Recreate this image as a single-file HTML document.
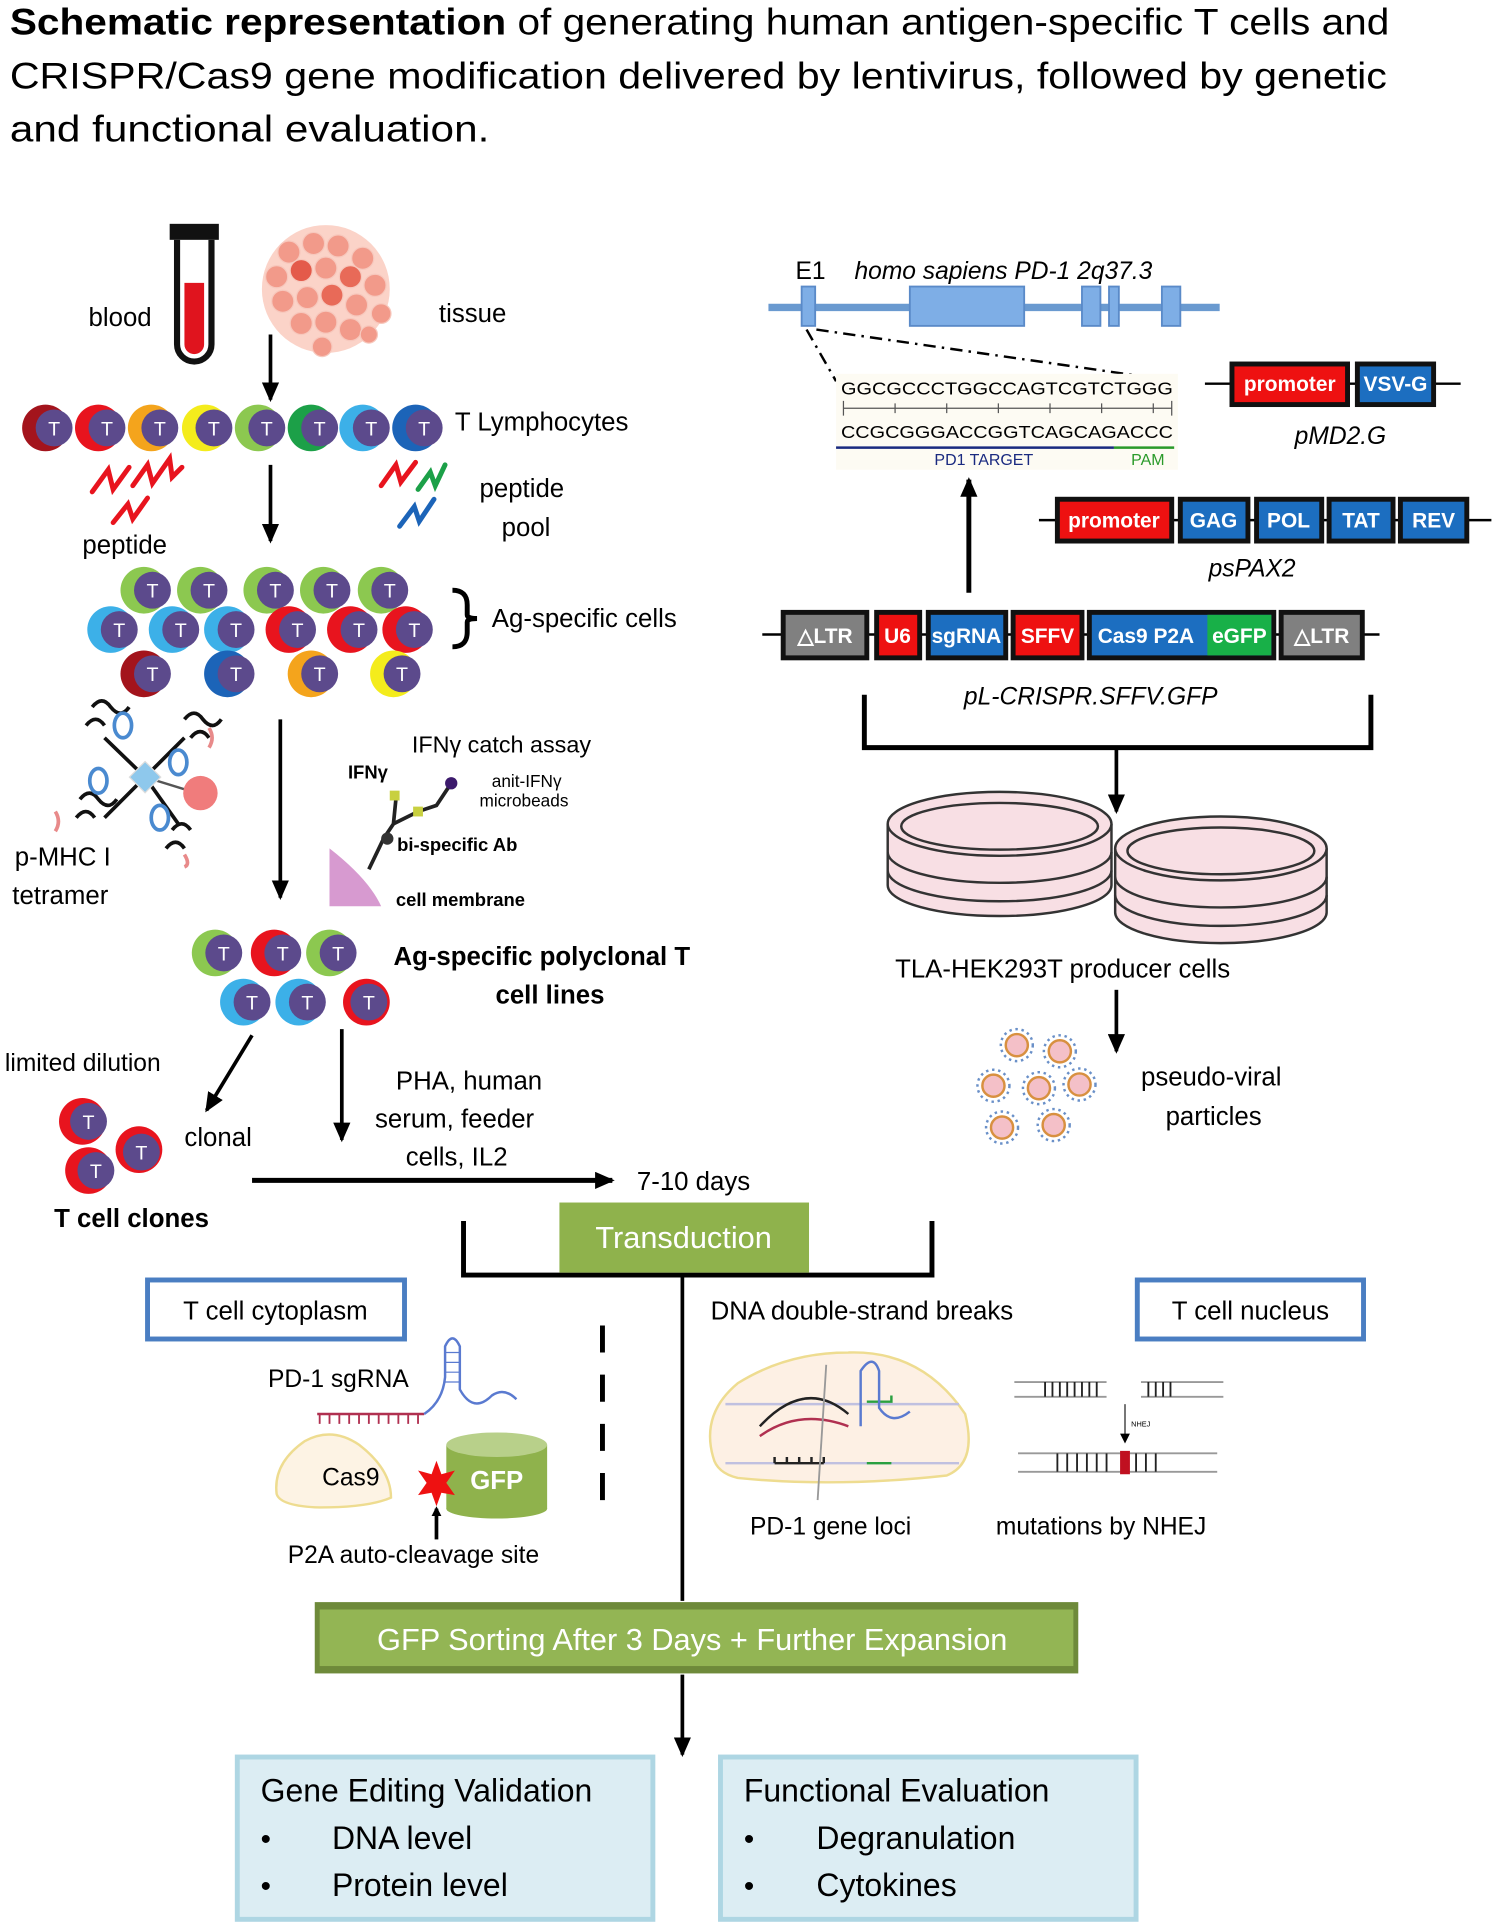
<!DOCTYPE html>
<html><head><meta charset="utf-8"><style>
html,body{margin:0;padding:0;background:#fff;}
svg{display:block;}
text{font-family:"Liberation Sans",sans-serif;}
</style></head><body>
<svg width="1500" height="1928" viewBox="0 0 1220 1568" xmlns="http://www.w3.org/2000/svg">
<defs>
<marker id="ah" markerWidth="8" markerHeight="8" refX="6" refY="4" orient="auto" markerUnits="userSpaceOnUse"><path d="M0,0 L8,4 L0,8 z" fill="#000"/></marker>
<marker id="ah2" markerWidth="16" markerHeight="14" refX="14" refY="7" orient="auto" markerUnits="userSpaceOnUse"><path d="M0,0 L16,7 L0,14 z" fill="#000"/></marker>
<g id="cP"><circle cx="2" cy="0" r="15" fill="#5c4a8c"/><text x="2" y="6" font-size="16" fill="#fff" text-anchor="middle">T</text></g>
</defs>

<!-- Title -->
<text x="8" y="28" font-size="30" textLength="1122" lengthAdjust="spacingAndGlyphs"><tspan font-weight="bold">Schematic representation</tspan> of generating human antigen-specific T cells and</text>
<text x="8" y="72" font-size="30" textLength="1120" lengthAdjust="spacingAndGlyphs">CRISPR/Cas9 gene modification delivered by lentivirus, followed by genetic</text>
<text x="8" y="115" font-size="30" textLength="390" lengthAdjust="spacingAndGlyphs">and functional evaluation.</text>

<!-- blood tube -->
<rect x="138" y="182" width="40" height="13" fill="#111"/>
<path d="M144,195 V280 A14,14 0 0 0 172,280 V195" fill="none" stroke="#111" stroke-width="5"/>
<path d="M150,230 V280 A8,8 0 0 0 166,280 V230 z" fill="#e0141e"/>
<text x="72" y="265" font-size="21">blood</text>
<!-- tissue -->
<g fill="#f29a8a" stroke="#f7c8bd" stroke-width="1">
<circle cx="265" cy="235" r="52" fill="#fbd3c8" stroke="none"/>
<circle cx="235" cy="205" r="9"/><circle cx="255" cy="198" r="9"/><circle cx="275" cy="200" r="9"/><circle cx="295" cy="210" r="9"/>
<circle cx="225" cy="225" r="9"/><circle cx="245" cy="220" r="9" fill="#e45a4a"/><circle cx="265" cy="218" r="9"/><circle cx="285" cy="225" r="9" fill="#e86a58"/><circle cx="305" cy="232" r="9"/>
<circle cx="230" cy="245" r="9"/><circle cx="250" cy="242" r="9"/><circle cx="270" cy="240" r="9" fill="#e86a58"/><circle cx="290" cy="248" r="9"/><circle cx="310" cy="255" r="8"/>
<circle cx="245" cy="263" r="9"/><circle cx="265" cy="262" r="9"/><circle cx="285" cy="268" r="9"/><circle cx="262" cy="282" r="8"/><circle cx="300" cy="272" r="7"/>
</g>
<text x="357" y="262" font-size="21">tissue</text>
<line x1="220" y1="272" x2="220" y2="325" stroke="#000" stroke-width="3" marker-end="url(#ah2)"/>

<!-- T lymphocytes -->
<g>
<circle cx="37" cy="348" r="19" fill="#a3141c"/><use href="#cP" x="42" y="348"/>
<circle cx="80" cy="348" r="19" fill="#e8141e"/><use href="#cP" x="85" y="348"/>
<circle cx="123" cy="348" r="19" fill="#f4a41c"/><use href="#cP" x="128" y="348"/>
<circle cx="167" cy="348" r="19" fill="#f4ec1c"/><use href="#cP" x="172" y="348"/>
<circle cx="210" cy="348" r="19" fill="#8cc850"/><use href="#cP" x="215" y="348"/>
<circle cx="253" cy="348" r="19" fill="#1ca048"/><use href="#cP" x="258" y="348"/>
<circle cx="295" cy="348" r="19" fill="#3cb0e8"/><use href="#cP" x="300" y="348"/>
<circle cx="338" cy="348" r="19" fill="#1c64b8"/><use href="#cP" x="343" y="348"/>
</g>
<text x="370" y="350" font-size="21">T Lymphocytes</text>
<!-- peptides -->
<g fill="none" stroke-width="4" stroke-linecap="round">
<path d="M75,400 L88,382 L92,398 L105,380" stroke="#e8141e"/>
<path d="M108,395 L120,378 L124,393 L138,373 L140,388 L148,380" stroke="#e8141e"/>
<path d="M92,425 L104,410 L108,422 L120,405" stroke="#e8141e"/>
<path d="M310,395 L322,378 L326,392 L338,376" stroke="#e8141e"/>
<path d="M340,398 L350,384 L354,395 L362,378" stroke="#1ca048"/>
<path d="M325,428 L337,412 L341,424 L353,406" stroke="#1c64b8"/>
</g>
<text x="67" y="450" font-size="21">peptide</text>
<text x="390" y="404" font-size="21">peptide</text>
<text x="408" y="436" font-size="21">pool</text>
<line x1="220" y1="378" x2="220" y2="440" stroke="#000" stroke-width="3" marker-end="url(#ah2)"/>

<!-- Ag-specific cells -->
<g>
<circle cx="117" cy="480" r="19" fill="#8cc850"/><use href="#cP" x="122" y="480"/>
<circle cx="163" cy="480" r="19" fill="#8cc850"/><use href="#cP" x="168" y="480"/>
<circle cx="217" cy="480" r="19" fill="#8cc850"/><use href="#cP" x="222" y="480"/>
<circle cx="263" cy="480" r="19" fill="#8cc850"/><use href="#cP" x="268" y="480"/>
<circle cx="310" cy="480" r="19" fill="#8cc850"/><use href="#cP" x="315" y="480"/>
<circle cx="90" cy="512" r="19" fill="#3cb0e8"/><use href="#cP" x="95" y="512"/>
<circle cx="140" cy="512" r="19" fill="#3cb0e8"/><use href="#cP" x="145" y="512"/>
<circle cx="185" cy="512" r="19" fill="#3cb0e8"/><use href="#cP" x="190" y="512"/>
<circle cx="235" cy="512" r="19" fill="#e8141e"/><use href="#cP" x="240" y="512"/>
<circle cx="285" cy="512" r="19" fill="#e8141e"/><use href="#cP" x="290" y="512"/>
<circle cx="330" cy="512" r="19" fill="#e8141e"/><use href="#cP" x="335" y="512"/>
<circle cx="117" cy="548" r="19" fill="#a3141c"/><use href="#cP" x="122" y="548"/>
<circle cx="185" cy="548" r="19" fill="#1c64b8"/><use href="#cP" x="190" y="548"/>
<circle cx="253" cy="548" r="19" fill="#f4a41c"/><use href="#cP" x="258" y="548"/>
<circle cx="320" cy="548" r="19" fill="#f4ec1c"/><use href="#cP" x="325" y="548"/>
</g>
<path d="M368,480 Q380,480 380,492 V500 Q380,503 388,503 Q380,503 380,506 V514 Q380,526 368,526" fill="none" stroke="#000" stroke-width="4"/>
<text x="400" y="510" font-size="21">Ag-specific cells</text>

<!-- tetramer -->
<g fill="none" stroke-width="3">
<line x1="85" y1="600" x2="118" y2="632" stroke="#111"/><line x1="150" y1="600" x2="118" y2="632" stroke="#111"/>
<line x1="85" y1="665" x2="118" y2="632" stroke="#111"/><line x1="145" y1="670" x2="118" y2="632" stroke="#111"/>
<line x1="118" y1="632" x2="160" y2="645" stroke="#555" stroke-width="2"/>
<path d="M75,575 q8,-10 15,0 q8,10 15,0 M70,590 q8,-10 15,0" stroke="#111"/>
<path d="M150,585 q8,-10 15,0 q8,10 15,0 M155,600 q8,-10 15,0" stroke="#111"/>
<path d="M65,650 q8,-10 15,0 q8,10 15,0 M62,665 q8,-10 15,0" stroke="#111"/>
<path d="M135,690 q8,-10 15,0 M140,675 q8,-10 15,0" stroke="#111"/>
<ellipse cx="100" cy="590" rx="7" ry="10" stroke="#4a8ad0"/><ellipse cx="145" cy="620" rx="7" ry="10" stroke="#4a8ad0"/>
<ellipse cx="80" cy="635" rx="7" ry="10" stroke="#4a8ad0"/><ellipse cx="130" cy="665" rx="7" ry="10" stroke="#4a8ad0"/>
<path d="M45,660 q5,8 0,16 M170,592 q5,8 0,16 M150,695 q5,8 0,10" stroke="#e88a8a"/>
</g>
<rect x="109" y="623" width="18" height="18" fill="#8ec8ec" stroke="#ddd" transform="rotate(45 118 632)"/>
<circle cx="163" cy="645" r="14" fill="#f07c7c"/>
<text x="12" y="704" font-size="21">p-MHC I</text>
<text x="10" y="735" font-size="21">tetramer</text>
<line x1="228" y1="585" x2="228" y2="730" stroke="#000" stroke-width="3" marker-end="url(#ah2)"/>

<!-- IFNg catch -->
<text x="335" y="612" font-size="19">IFNγ catch assay</text>
<text x="283" y="633" font-size="15" font-weight="bold">IFNγ</text>
<text x="400" y="640" font-size="14">anit-IFNγ</text>
<text x="390" y="656" font-size="14">microbeads</text>
<path d="M268,690 Q300,715 310,737 L268,737 z" fill="#d79ad0"/>
<path d="M300,707 L312,682 L320,670 L322,650 M320,670 L340,660 L355,655 L365,640" fill="none" stroke="#222" stroke-width="3"/>
<circle cx="315" cy="682" r="5" fill="#333"/>
<rect x="317" y="643" width="8" height="8" fill="#c8d040"/><rect x="336" y="656" width="8" height="8" fill="#c8d040"/>
<circle cx="367" cy="637" r="5" fill="#3c1a6c"/>
<text x="323" y="692" font-size="15" font-weight="bold">bi-specific Ab</text>
<text x="322" y="737" font-size="15" font-weight="bold">cell membrane</text>

<!-- polyclonal -->
<g>
<circle cx="175" cy="775" r="19" fill="#8cc850"/><use href="#cP" x="180" y="775"/>
<circle cx="223" cy="775" r="19" fill="#e8141e"/><use href="#cP" x="228" y="775"/>
<circle cx="268" cy="775" r="19" fill="#8cc850"/><use href="#cP" x="273" y="775"/>
<circle cx="198" cy="815" r="19" fill="#3cb0e8"/><use href="#cP" x="203" y="815"/>
<circle cx="243" cy="815" r="19" fill="#3cb0e8"/><use href="#cP" x="248" y="815"/>
<circle cx="298" cy="815" r="19" fill="#e8141e"/><use href="#cP" x="298" y="815"/>
</g>
<text x="320" y="785" font-size="21" font-weight="bold">Ag-specific polyclonal T</text>
<text x="403" y="816" font-size="21" font-weight="bold">cell lines</text>
<text x="4" y="871" font-size="20">limited dilution</text>
<line x1="205" y1="842" x2="168" y2="903" stroke="#000" stroke-width="3" marker-end="url(#ah2)"/>
<line x1="278" y1="837" x2="278" y2="927" stroke="#000" stroke-width="3" marker-end="url(#ah2)"/>
<g>
<circle cx="67" cy="912" r="19" fill="#e8141e"/><use href="#cP" x="70" y="912"/>
<circle cx="113" cy="935" r="19" fill="#e8141e"/><use href="#cP" x="113" y="937"/>
<circle cx="72" cy="952" r="19" fill="#e8141e"/><use href="#cP" x="76" y="952"/>
</g>
<text x="150" y="932" font-size="21">clonal</text>
<text x="44" y="998" font-size="21" font-weight="bold">T cell clones</text>
<text x="322" y="886" font-size="21">PHA, human</text>
<text x="305" y="917" font-size="21">serum, feeder</text>
<text x="330" y="948" font-size="21">cells, IL2</text>
<line x1="205" y1="960" x2="498" y2="960" stroke="#000" stroke-width="4" marker-end="url(#ah2)"/>
<text x="518" y="968" font-size="21">7-10 days</text>

<!-- transduction -->
<path d="M377,993 V1037 H758 V993" fill="none" stroke="#000" stroke-width="4"/>
<rect x="455" y="978" width="203" height="57" fill="#8fb24c"/>
<text x="556" y="1015" font-size="25" fill="#fff" text-anchor="middle">Transduction</text>
<line x1="555" y1="1037" x2="555" y2="1302" stroke="#000" stroke-width="3"/>
<rect x="120" y="1041" width="209" height="48" fill="#fff" stroke="#4a7ec2" stroke-width="4"/>
<text x="224" y="1073" font-size="21" text-anchor="middle">T cell cytoplasm</text>
<rect x="925" y="1041" width="184" height="48" fill="#fff" stroke="#4a7ec2" stroke-width="4"/>
<text x="1017" y="1073" font-size="21" text-anchor="middle">T cell nucleus</text>
<text x="578" y="1073" font-size="21">DNA double-strand breaks</text>
<line x1="490" y1="1078" x2="490" y2="1222" stroke="#000" stroke-width="4" stroke-dasharray="22,18"/>

<!-- sgRNA / Cas9 -->
<text x="218" y="1128" font-size="20">PD-1 sgRNA</text>
<line x1="258" y1="1150" x2="345" y2="1150" stroke="#b03050" stroke-width="2"/>
<path d="M260,1150 v8 M268,1150 v8 M276,1150 v8 M284,1150 v8 M292,1150 v8 M300,1150 v8 M308,1150 v8 M316,1150 v8 M324,1150 v8 M332,1150 v8 M340,1150 v8" stroke="#b03050" stroke-width="1.5"/>
<path d="M345,1150 Q360,1140 362,1120 V1095 Q368,1082 374,1095 V1130 Q385,1150 400,1135 Q410,1128 420,1138" fill="none" stroke="#5a7ad0" stroke-width="2"/>
<path d="M362,1100 h12 M362,1108 h12 M362,1116 h12 M362,1124 h12" stroke="#5a7ad0"/>
<path d="M225,1215 Q222,1190 248,1172 Q270,1160 292,1175 Q318,1195 318,1218 Q300,1226 260,1226 Q228,1225 225,1215 z" fill="#fdf3e4" stroke="#eedc90" stroke-width="2"/>
<text x="262" y="1208" font-size="20">Cas9</text>
<rect x="363" y="1175" width="82" height="52" fill="#8fb24c"/>
<ellipse cx="404" cy="1227" rx="41" ry="8" fill="#8fb24c"/>
<ellipse cx="404" cy="1175" rx="41" ry="10" fill="#b8d08a"/>
<text x="404" y="1211" font-size="21" font-weight="bold" fill="#fff" text-anchor="middle">GFP</text>
<polygon points="355,1188 359,1199 370,1196 363,1206 370,1216 359,1214 355,1225 351,1214 340,1216 347,1206 340,1196 351,1199" fill="#ee1111"/>
<line x1="355" y1="1252" x2="355" y2="1227" stroke="#000" stroke-width="3" marker-end="url(#ah)"/>
<text x="234" y="1271" font-size="20">P2A auto-cleavage site</text>

<!-- PD-1 gene loci -->
<path d="M580,1185 Q570,1150 600,1125 Q640,1100 690,1100 Q750,1098 785,1150 Q795,1190 770,1200 Q680,1210 600,1202 Q583,1198 580,1185 z" fill="#fdf0e4" stroke="#eedc90" stroke-width="2"/>
<line x1="590" y1="1142" x2="780" y2="1142" stroke="#c0c0e0" stroke-width="2"/>
<line x1="590" y1="1190" x2="780" y2="1190" stroke="#c0c0e0" stroke-width="2"/>
<path d="M618,1160 Q655,1120 690,1150" fill="none" stroke="#222" stroke-width="2"/>
<path d="M618,1168 Q650,1145 690,1160" fill="none" stroke="#b03050" stroke-width="2"/>
<path d="M630,1190 h40 M630,1185 v5 M640,1185 v5 M650,1185 v5 M660,1185 v5 M670,1185 v5" stroke="#222" stroke-width="2"/>
<path d="M705,1140 h20 v-5 M705,1190 h20" stroke="#2aa040" stroke-width="2" fill="none"/>
<path d="M700,1160 V1115 Q710,1100 715,1115 V1145 Q725,1160 740,1148" fill="none" stroke="#5a7ad0" stroke-width="2"/>
<line x1="672" y1="1110" x2="665" y2="1220" stroke="#999" stroke-width="1.5"/>
<text x="610" y="1248" font-size="20">PD-1 gene loci</text>
<g stroke="#999" stroke-width="1.5">
<line x1="825" y1="1124" x2="900" y2="1124"/><line x1="825" y1="1136" x2="900" y2="1136"/>
<line x1="928" y1="1124" x2="995" y2="1124"/><line x1="928" y1="1136" x2="995" y2="1136"/>
<line x1="828" y1="1182" x2="990" y2="1182"/><line x1="828" y1="1197" x2="990" y2="1197"/>
</g>
<path d="M850,1124 v12 M856,1124 v12 M862,1124 v12 M868,1124 v12 M874,1124 v12 M880,1124 v12 M886,1124 v12 M892,1124 v12 M934,1124 v12 M940,1124 v12 M946,1124 v12 M952,1124 v12 M860,1182 v15 M868,1182 v15 M876,1182 v15 M884,1182 v15 M892,1182 v15 M900,1182 v15 M924,1182 v15 M932,1182 v15 M940,1182 v15" stroke="#222" stroke-width="1.5"/>
<rect x="911" y="1180" width="8" height="19" fill="#c01020"/>
<line x1="915" y1="1142" x2="915" y2="1172" stroke="#222" marker-end="url(#ah)"/>
<text x="920" y="1160" font-size="6">NHEJ</text>
<text x="810" y="1248" font-size="20">mutations by NHEJ</text>

<!-- GFP sorting -->
<rect x="256" y="1303" width="621" height="58" fill="#6e8a3a"/>
<rect x="260" y="1309" width="613" height="46" fill="#93b554"/>
<text x="563" y="1342" font-size="25" fill="#fff" text-anchor="middle">GFP Sorting After 3 Days + Further Expansion</text>
<line x1="555" y1="1362" x2="555" y2="1427" stroke="#000" stroke-width="3" marker-end="url(#ah2)"/>

<!-- bottom boxes -->
<rect x="193" y="1429" width="338" height="132" fill="#dcedf3" stroke="#aed6e3" stroke-width="4"/>
<text x="212" y="1465" font-size="26">Gene Editing Validation</text>
<text x="212" y="1504" font-size="24">•</text><text x="270" y="1504" font-size="26">DNA level</text>
<text x="212" y="1542" font-size="24">•</text><text x="270" y="1542" font-size="26">Protein level</text>
<rect x="586" y="1429" width="338" height="132" fill="#dcedf3" stroke="#aed6e3" stroke-width="4"/>
<text x="605" y="1465" font-size="26">Functional Evaluation</text>
<text x="605" y="1504" font-size="24">•</text><text x="664" y="1504" font-size="26">Degranulation</text>
<text x="605" y="1542" font-size="24">•</text><text x="664" y="1542" font-size="26">Cytokines</text>

<!-- PD-1 gene -->
<text x="647" y="227" font-size="20">E1</text>
<text x="695" y="227" font-size="20" font-style="italic">homo sapiens PD-1 2q37.3</text>
<line x1="625" y1="250" x2="992" y2="250" stroke="#6a9ad0" stroke-width="6"/>
<g fill="#7eaee6" stroke="#5a8ac8" stroke-width="1.5">
<rect x="652" y="233" width="11" height="32"/><rect x="740" y="233" width="93" height="32"/>
<rect x="880" y="233" width="15" height="32"/><rect x="902" y="233" width="8" height="32"/><rect x="945" y="233" width="15" height="32"/>
</g>
<path d="M656,268 L680,310 M664,268 L957,310" stroke="#000" stroke-width="2" stroke-dasharray="10,5,2,5" fill="none"/>
<rect x="680" y="304" width="278" height="78" fill="#fdfbf3"/>
<text x="684" y="321" font-size="14" font-family="Liberation Mono" textLength="270" lengthAdjust="spacingAndGlyphs">GGCGCCCTGGCCAGTCGTCTGGG</text>
<line x1="686" y1="332" x2="953" y2="332" stroke="#555"/>
<path d="M686,326 v12 M953,326 v12 M728,328 v8 M770,328 v8 M812,328 v8 M854,328 v8 M896,328 v8 M938,328 v8" stroke="#555"/>
<text x="684" y="356" font-size="14" font-family="Liberation Mono" textLength="270" lengthAdjust="spacingAndGlyphs">CCGCGGGACCGGTCAGCAGACCC</text>
<line x1="680" y1="364" x2="906" y2="364" stroke="#1a2a80" stroke-width="2"/>
<line x1="906" y1="364" x2="955" y2="364" stroke="#2a9a2a" stroke-width="2"/>
<text x="760" y="378" font-size="13" fill="#1a2a80">PD1 TARGET</text>
<text x="920" y="378" font-size="13" fill="#2a9a2a">PAM</text>
<line x1="788" y1="482" x2="788" y2="390" stroke="#000" stroke-width="4" marker-end="url(#ah2)"/>

<!-- plasmids -->
<g font-weight="bold" font-size="17" fill="#fff" text-anchor="middle">
<line x1="980" y1="312" x2="1188" y2="312" stroke="#000" stroke-width="2"/>
<rect x="1002" y="296" width="94" height="33" fill="#ee1111" stroke="#111" stroke-width="4"/><text x="1049" y="318">promoter</text>
<rect x="1104" y="296" width="62" height="33" fill="#1c6ec0" stroke="#111" stroke-width="4"/><text x="1135" y="318">VSV-G</text>
<line x1="845" y1="423" x2="1213" y2="423" stroke="#000" stroke-width="2"/>
<rect x="860" y="406" width="93" height="34" fill="#ee1111" stroke="#111" stroke-width="4"/><text x="906" y="429">promoter</text>
<rect x="960" y="406" width="55" height="34" fill="#1c6ec0" stroke="#111" stroke-width="4"/><text x="987" y="429">GAG</text>
<rect x="1022" y="406" width="53" height="34" fill="#1c6ec0" stroke="#111" stroke-width="4"/><text x="1048" y="429">POL</text>
<rect x="1081" y="406" width="52" height="34" fill="#1c6ec0" stroke="#111" stroke-width="4"/><text x="1107" y="429">TAT</text>
<rect x="1139" y="406" width="54" height="34" fill="#1c6ec0" stroke="#111" stroke-width="4"/><text x="1166" y="429">REV</text>
<line x1="620" y1="516" x2="1122" y2="516" stroke="#000" stroke-width="2"/>
<rect x="637" y="498" width="68" height="37" fill="#808080" stroke="#111" stroke-width="4"/><text x="671" y="523">△LTR</text>
<rect x="713" y="498" width="35" height="37" fill="#ee1111" stroke="#111" stroke-width="4"/><text x="730" y="523">U6</text>
<rect x="755" y="498" width="63" height="37" fill="#1c6ec0" stroke="#111" stroke-width="4"/><text x="786" y="523">sgRNA</text>
<rect x="824" y="498" width="56" height="37" fill="#ee1111" stroke="#111" stroke-width="4"/><text x="852" y="523">SFFV</text>
<rect x="886" y="498" width="150" height="37" fill="#1c6ec0" stroke="#111" stroke-width="4"/>
<rect x="982" y="500" width="52" height="33" fill="#18b048"/><text x="932" y="523">Cas9 P2A</text><text x="1008" y="523">eGFP</text>
<rect x="1042" y="498" width="66" height="37" fill="#808080" stroke="#111" stroke-width="4"/><text x="1075" y="523">△LTR</text>
</g>
<text x="1053" y="361" font-size="20" font-style="italic">pMD2.G</text>
<text x="983" y="469" font-size="20" font-style="italic">psPAX2</text>
<text x="784" y="573" font-size="20" font-style="italic">pL-CRISPR.SFFV.GFP</text>
<path d="M703,565 V608 H1115 V565" fill="none" stroke="#000" stroke-width="4"/>
<line x1="908" y1="608" x2="908" y2="660" stroke="#000" stroke-width="3" marker-end="url(#ah2)"/>

<!-- dishes -->
<g fill="#f8dfe4" stroke="#333" stroke-width="2">
<path d="M722,670 V720 A91,25 0 0 0 904,720 V670"/>
<ellipse cx="813" cy="670" rx="91" ry="26"/>
<ellipse cx="813" cy="672" rx="80" ry="19" fill="none"/>
<path d="M722,693 A91,25 0 0 0 904,693 M722,708 A91,25 0 0 0 904,708" fill="none"/>
<path d="M907,690 V742 A86,25 0 0 0 1079,742 V690"/>
<ellipse cx="993" cy="690" rx="86" ry="26"/>
<ellipse cx="993" cy="692" rx="76" ry="19" fill="none"/>
<path d="M907,713 A86,25 0 0 0 1079,713 M907,728 A86,25 0 0 0 1079,728" fill="none"/>
</g>
<text x="728" y="795" font-size="21">TLA-HEK293T producer cells</text>
<line x1="908" y1="805" x2="908" y2="855" stroke="#000" stroke-width="3" marker-end="url(#ah2)"/>
<g fill="#f4c0c8" stroke="#d89040" stroke-width="2">
<circle cx="827" cy="850" r="9"/><circle cx="862" cy="855" r="9"/>
<circle cx="808" cy="883" r="9"/><circle cx="845" cy="885" r="9"/><circle cx="878" cy="882" r="9"/>
<circle cx="815" cy="917" r="9"/><circle cx="857" cy="915" r="9"/>
</g>
<g fill="none" stroke="#6a90c8" stroke-width="2" stroke-dasharray="2,3">
<circle cx="827" cy="850" r="13"/><circle cx="862" cy="855" r="13"/>
<circle cx="808" cy="883" r="13"/><circle cx="845" cy="885" r="13"/><circle cx="878" cy="882" r="13"/>
<circle cx="815" cy="917" r="13"/><circle cx="857" cy="915" r="13"/>
</g>
<text x="928" y="883" font-size="21">pseudo-viral</text>
<text x="948" y="915" font-size="21">particles</text>
</svg>
</body></html>
